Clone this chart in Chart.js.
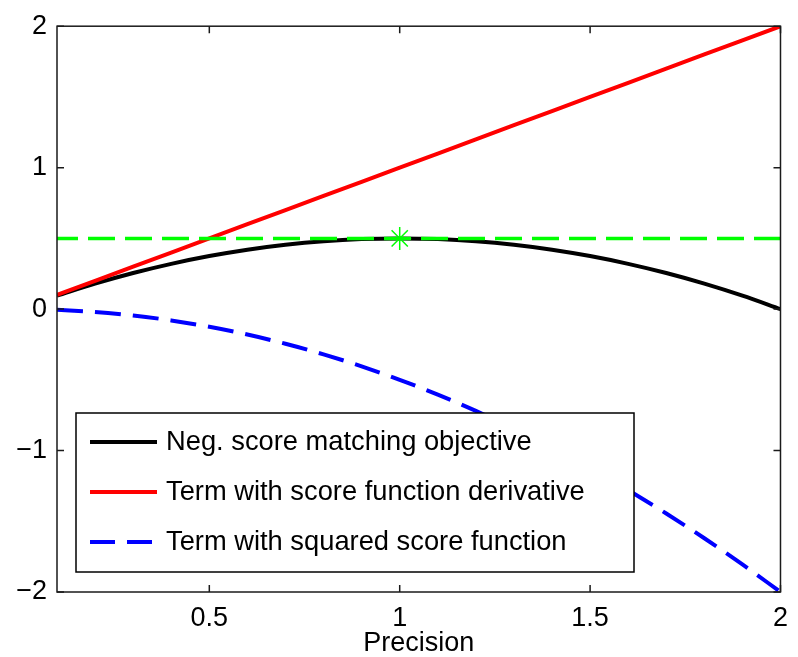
<!DOCTYPE html>
<html>
<head>
<meta charset="utf-8">
<script src="https://cdn.jsdelivr.net/npm/chart.js@4"></script>
<style>
  html, body { margin: 0; padding: 0; background: #fff; }
  #wrap { width: 798px; height: 657px; }
</style>
</head>
<body>
<div id="wrap"><canvas id="myChart" width="798" height="657"></canvas></div>
<script>
// precision values along the x axis
const precision = [0.1, 0.2, 0.3, 0.4, 0.5, 0.6, 0.7, 0.8, 0.9, 1.0,
                   1.1, 1.2, 1.3, 1.4, 1.5, 1.6, 1.7, 1.8, 1.9, 2.0];
// neg. score matching objective (black)
const objective = [0.095, 0.18, 0.255, 0.32, 0.375, 0.42, 0.455, 0.48, 0.495, 0.5,
                   0.495, 0.48, 0.455, 0.42, 0.375, 0.32, 0.255, 0.18, 0.095, 0.0];
// term with score function derivative (red)
const derivTerm = [0.1, 0.2, 0.3, 0.4, 0.5, 0.6, 0.7, 0.8, 0.9, 1.0,
                   1.1, 1.2, 1.3, 1.4, 1.5, 1.6, 1.7, 1.8, 1.9, 2.0];
// term with squared score function (blue dashed)
const squaredTerm = [-0.005, -0.02, -0.045, -0.08, -0.125, -0.18, -0.245, -0.32, -0.405, -0.5,
                     -0.605, -0.72, -0.845, -0.98, -1.125, -1.28, -1.445, -1.62, -1.805, -2.0];
// green dashed level line and its maximum marker
const levelX = [0.1, 2.0];
const levelY = [0.5, 0.5];
const maxPoint = [1.0, 0.5];

const xTicks = [0.5, 1, 1.5, 2];
const yTicks = [-2, -1, 0, 1, 2];

const legendLabels = ['Neg. score matching objective', 'Term with score function derivative', 'Term with squared score function'];

const FONT = 'Liberation Sans, Arial, Helvetica, sans-serif';

function pts(xs, ys) {
  return xs.map((x, i) => ({ x: x, y: ys[i] }));
}

// draws the box, the inward ticks and the legend like a matlab figure
const matlabAxes = {
  id: 'matlabAxes',
  afterDatasetsDraw(chart) {
    const ctx = chart.ctx;
    const a = chart.chartArea;
    const xs = chart.scales.x, ys = chart.scales.y;
    ctx.save();
    ctx.strokeStyle = '#1a1a1a';
    ctx.lineWidth = 1.5;
    ctx.strokeRect(a.left, a.top, a.right - a.left, a.bottom - a.top);
    ctx.beginPath();
    xTicks.forEach(v => {
      const px = xs.getPixelForValue(v);
      ctx.moveTo(px, a.bottom); ctx.lineTo(px, a.bottom - 7);
      ctx.moveTo(px, a.top); ctx.lineTo(px, a.top + 7);
    });
    yTicks.forEach(v => {
      const py = ys.getPixelForValue(v);
      ctx.moveTo(a.left, py); ctx.lineTo(a.left + 7, py);
      ctx.moveTo(a.right, py); ctx.lineTo(a.right - 7, py);
    });
    ctx.stroke();

    // legend
    const lx = 76, ly = 413, lw = 558, lh = 159;
    ctx.fillStyle = '#fff';
    ctx.fillRect(lx, ly, lw, lh);
    ctx.strokeStyle = '#000';
    ctx.lineWidth = 1.5;
    ctx.strokeRect(lx, ly, lw, lh);
    const styles = [
      { color: '#000000', dash: [] },
      { color: '#ff0000', dash: [] },
      { color: '#0000ff', dash: [25, 12] }
    ];
    ctx.font = '27.3px ' + FONT;
    ctx.textBaseline = 'middle';
    ctx.textAlign = 'left';
    legendLabels.forEach((txt, i) => {
      const cy = 442 + i * 50;
      ctx.beginPath();
      ctx.setLineDash(styles[i].dash);
      ctx.strokeStyle = styles[i].color;
      ctx.lineWidth = 4;
      ctx.moveTo(90, cy); ctx.lineTo(157, cy);
      ctx.stroke();
      ctx.setLineDash([]);
      ctx.fillStyle = '#000';
      ctx.fillText(txt, 166, cy);
    });
    ctx.restore();
  }
};

const ctx = document.getElementById('myChart').getContext('2d');
const chart = new Chart(ctx, {
  type: 'scatter',
  data: {
    datasets: [
      {
        label: 'max',
        data: [{ x: maxPoint[0], y: maxPoint[1] }],
        showLine: false,
        pointStyle: 'star',
        pointRadius: 11.5,
        pointBorderWidth: 1.5,
        pointBorderColor: '#00ff00',
        pointBackgroundColor: '#00ff00'
      },
      {
        label: 'level',
        data: pts(levelX, levelY),
        showLine: true,
        borderColor: '#00ff00',
        borderWidth: 3.5,
        borderDash: [27, 10],
        borderDashOffset: 6,
        pointRadius: 0
      },
      {
        label: legendLabels[1],
        data: pts(precision, derivTerm),
        showLine: true,
        borderColor: '#ff0000',
        borderWidth: 4,
        pointRadius: 0
      },
      {
        label: legendLabels[0],
        data: pts(precision, objective),
        showLine: true,
        borderColor: '#000000',
        borderWidth: 4,
        cubicInterpolationMode: 'monotone',
        pointRadius: 0
      },
      {
        label: legendLabels[2],
        data: pts(precision, squaredTerm),
        showLine: true,
        borderColor: '#0000ff',
        borderWidth: 4,
        borderDash: [26, 12],
        cubicInterpolationMode: 'monotone',
        pointRadius: 0
      }
    ]
  },
  options: {
    responsive: false,
    animation: false,
    layout: { padding: { left: 0, top: 21, right: 16, bottom: 0 } },
    plugins: {
      legend: { display: false },
      tooltip: { enabled: false }
    },
    scales: {
      x: {
        type: 'linear',
        min: 0.1,
        max: 2,
        grid: { display: false, drawTicks: false },
        border: { display: false },
        afterBuildTicks: (s) => { s.ticks = xTicks.map(v => ({ value: v })); },
        afterFit: (s) => { s.height = 65; },
        ticks: {
          color: '#000',
          padding: 10,
          maxRotation: 0,
          autoSkip: false,
          font: { family: FONT, size: 27 },
          callback: (v) => String(v)
        },
        title: {
          display: true,
          text: 'Precision',
          color: '#000',
          padding: { top: 0, bottom: 0 },
          font: { family: FONT, size: 27, lineHeight: 1 }
        }
      },
      y: {
        min: -2,
        max: 2,
        grid: { display: false, drawTicks: false },
        border: { display: false },
        afterBuildTicks: (s) => { s.ticks = yTicks.map(v => ({ value: v })); },
        afterFit: (s) => { s.width = 57; },
        ticks: {
          color: '#000',
          padding: 10,
          font: { family: FONT, size: 27 },
          callback: (v) => String(v).replace('-', '\u2212')
        }
      }
    }
  },
  plugins: [matlabAxes]
});
</script>
</body>
</html>
